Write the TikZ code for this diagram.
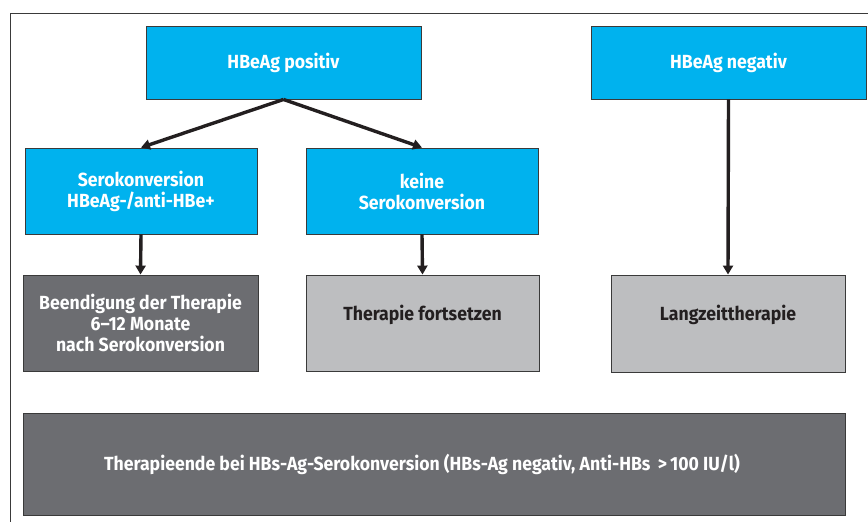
\documentclass[tikz,border=0pt]{standalone}
\usepackage{fontspec}
\setmainfont{Fira Sans}[FakeStretch=0.93]
\usetikzlibrary{arrows.meta}
\definecolor{cyanbox}{HTML}{00B2EE}
\definecolor{darkbox}{HTML}{6C6D71}
\definecolor{lightbox}{HTML}{BDBEC0}
\definecolor{edge}{HTML}{3A3A3A}
\definecolor{arrowc}{HTML}{231F20}
\tikzset{
  box/.style={draw=edge, line width=0.9pt, align=center, font=\bfseries\fontsize{19}{21}\selectfont, inner sep=0pt},
  bluebox/.style={box, fill=cyanbox, text=white},
  darkgray/.style={box, fill=darkbox, text=white},
  lightgray/.style={box, fill=lightbox, text=arrowc},
  arr/.style={draw=arrowc, line width=3.4pt, -{Triangle[length=9pt,width=10pt]}}
}
\begin{document}
\begin{tikzpicture}[x=1pt,y=-1pt]
\useasboundingbox (0,0) rectangle (868,522);
\draw[edge, line width=1pt] (10,530) -- (10,13) -- (880,13);
\node[bluebox, minimum width=275pt, minimum height=73pt] (pos) at (283.5,62.5) {HBeAg positiv};
\node[bluebox, minimum width=275pt, minimum height=73pt] (neg) at (728.5,62.5) {HBeAg negativ};
\node[bluebox, minimum width=232pt, minimum height=86pt] (sero) at (141,191) {Serokonversion\\HBeAg-/anti-HBe+};
\node[bluebox, minimum width=232pt, minimum height=86pt] (keine) at (422,191) {keine\\Serokonversion};
\node[darkgray, minimum width=235pt, minimum height=96pt] (beend) at (140.5,323) {Beendigung der Therapie\\6–12 Monate\\nach Serokonversion};
\node[lightgray, minimum width=233pt, minimum height=96pt] (fort) at (422.5,323) {\raisebox{3pt}[0pt][0pt]{Therapie fortsetzen}};
\node[lightgray, minimum width=234pt, minimum height=97pt] (lang) at (728,323.5) {\raisebox{3pt}[0pt][0pt]{Langzeittherapie}};
\node[darkgray, minimum width=822pt, minimum height=102pt] (ende) at (434,464) {\hspace*{-24pt}Therapieende bei HBs-Ag-Serokonversion (HBs-Ag negativ, Anti-HBs \,>\,100 IU/l)};
\draw[arr] (pos.south) -- (sero.north);
\draw[arr] (pos.south) -- (keine.north);
\draw[arr] (sero.south) -- (beend.north);
\draw[arr] (keine.south) -- (fort.north);
\draw[arr] (neg.south) -- (lang.north);
\end{tikzpicture}
\end{document}
